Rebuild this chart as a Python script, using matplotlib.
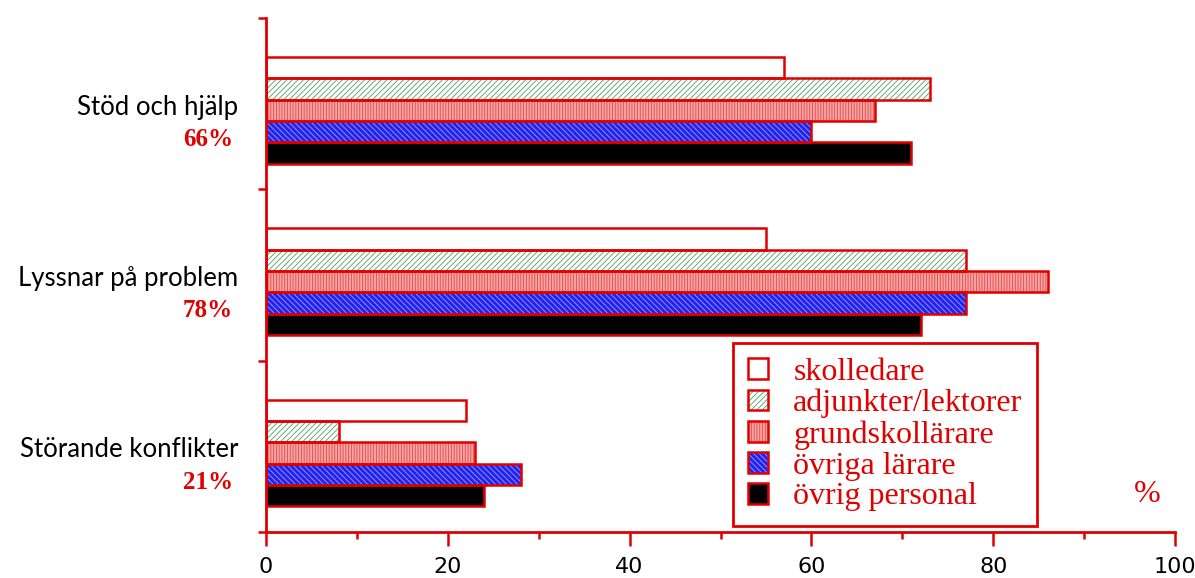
import numpy as np
import matplotlib
matplotlib.use("Agg")
import matplotlib.pyplot as plt
from matplotlib.patches import Patch
from matplotlib.legend_handler import HandlerTuple
from matplotlib.transforms import blended_transform_factory

categories = ["Stöd och hjälp", "Lyssnar på problem", "Störande konflikter"]
totals = ["66%", "78%", "21%"]
groups = ["skolledare", "adjunkter/lektorer", "grundskollärare",
          "övriga lärare", "övrig personal"]

skolledare = [57, 55, 22]
adjunkter = [73, 77, 8]
grundskol = [67, 86, 23]
ovriga_larare = [60, 77, 28]
ovrig_personal = [71, 72, 24]
series = [skolledare, adjunkter, grundskol, ovriga_larare, ovrig_personal]

RED = "#e00000"
# face colour, hatch colour, hatch pattern for each group
styles = [
    ("white", "white", None),
    ("white", "#4f9e66", "//////"),
    ("#f6a3a3", "#e24a4a", "||||||"),
    ("#2323f0", "#a0a0ff", "\\\\\\\\\\\\"),
    ("black", "black", None),
]

plt.rcParams["hatch.linewidth"] = 0.6

fig = plt.figure(figsize=(11.95, 5.78), dpi=100)
ax = fig.add_axes([0.2226, 0.0796, 0.7607, 0.8893])

bar_h = 0.1245
offset = 0.228
handles = []
for k, (vals, (face, hcol, hatch)) in enumerate(zip(series, styles)):
    y = np.arange(len(categories)) + offset + k * bar_h
    ax.barh(y, vals, height=bar_h, align="edge", color=face,
            edgecolor=hcol, hatch=hatch, linewidth=0, zorder=2)
    ax.barh(y, vals, height=bar_h, align="edge", fill=False,
            edgecolor=RED, linewidth=1.8, zorder=3)
    handles.append((Patch(facecolor=face, edgecolor=hcol, hatch=hatch, linewidth=0),
                    Patch(fill=False, edgecolor=RED, linewidth=1.8)))

ax.set_xlim(0, 100)
ax.set_ylim(3, 0)
ax.set_xticks(np.arange(0, 101, 20))
ax.set_xticks(np.arange(10, 100, 20), minor=True)
ax.set_yticks([0, 1, 2, 3])
ax.set_yticklabels([])
ax.tick_params(axis="x", which="major", length=10, width=1.8, color=RED,
               labelsize=16, pad=8)
ax.tick_params(axis="x", which="minor", length=5, width=1.8, color=RED)
ax.tick_params(axis="y", length=6, width=1.8, color=RED)
for lab in ax.get_xticklabels():
    lab.set_family(["Liberation Sans Narrow", "DejaVu Sans Condensed", "DejaVu Sans"])

for side in ("top", "right"):
    ax.spines[side].set_visible(False)
for side in ("left", "bottom"):
    ax.spines[side].set_color(RED)
    ax.spines[side].set_linewidth(2)

trans = blended_transform_factory(fig.transFigure, ax.transData)
for i, (name, tot) in enumerate(zip(categories, totals)):
    ax.text(238 / 1195, i + 0.52, name, transform=trans, ha="right", va="center",
            fontsize=18.5, family=["Lato", "DejaVu Sans"], color="black")
    ax.text(233 / 1195, i + 0.71, tot, transform=trans, ha="right", va="center",
            fontsize=18, fontweight="bold", family="Liberation Serif", color=RED)

ax.text(96.9, 2.78, "%", ha="center", va="center", fontsize=23,
        family="Liberation Serif", color=RED)

leg = ax.legend(handles, groups, handler_map={tuple: HandlerTuple(ndivide=1, pad=0)},
                loc="lower left", bbox_to_anchor=(0.514, 0.012),
                prop={"family": "Liberation Serif", "size": 23},
                labelcolor=RED, handlelength=0.63, handleheight=0.63,
                handletextpad=0.8, labelspacing=0.06, borderpad=0.45,
                borderaxespad=0, fancybox=False, framealpha=1,
                edgecolor=RED)
leg.get_frame().set_linewidth(2)

fig.savefig("out.png", dpi=100)
